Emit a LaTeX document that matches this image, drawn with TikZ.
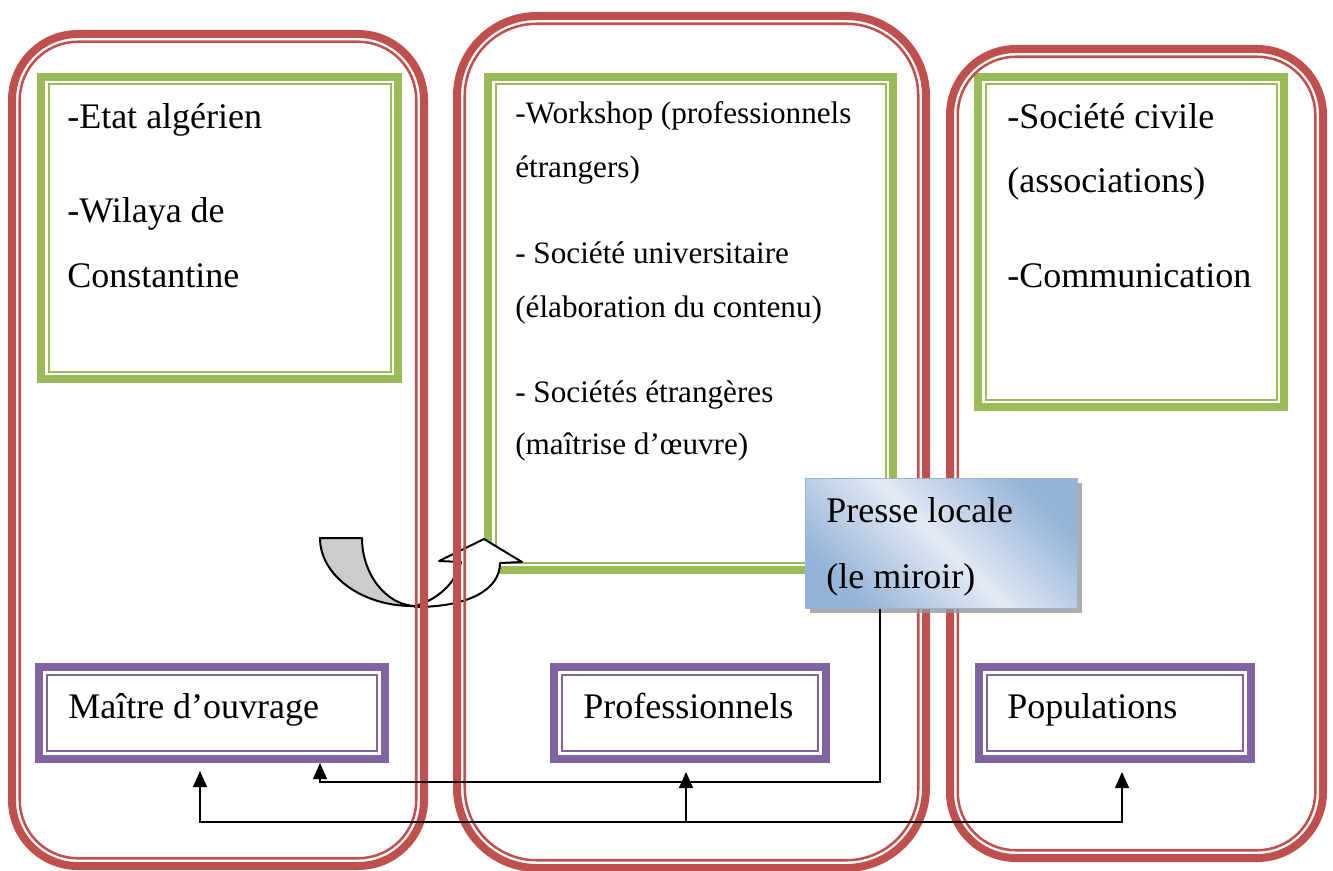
\documentclass[tikz,border=0pt]{standalone}
\usepackage{fontspec}
\setmainfont{Liberation Serif}
\usetikzlibrary{arrows.meta,shadows}
\definecolor{redc}{HTML}{C0504D}
\definecolor{greenc}{HTML}{9BBB59}
\definecolor{purplec}{HTML}{8064A2}
\definecolor{blueA}{HTML}{95B3D7}
\definecolor{blueB}{HTML}{E2EAF4}
\begin{document}
\begin{tikzpicture}[x=0.75pt,y=-0.75pt,
  bigtxt/.style={font=\fontsize{27pt}{30pt}\selectfont, inner sep=0pt, anchor=base west},
  midtxt/.style={font=\fontsize{23.4pt}{26pt}\selectfont, inner sep=0pt, anchor=base west},
  redframe/.style={draw=redc, line width=6pt, inner sep=0pt},
  redthin/.style={draw=redc, line width=1.9pt},
  greenframe/.style={draw=greenc, line width=6pt, inner sep=0pt},
  greenthin/.style={draw=greenc, line width=1.5pt},
  purpleframe/.style={draw=purplec, line width=6pt, inner sep=0pt, minimum height=69pt},
  purplethin/.style={draw=purplec, line width=1.5pt},
  conn/.style={draw=black, line width=1.1pt},
  arr/.style={conn, -{Triangle[length=12pt,width=10.5pt]}},
  arrowbody/.style={draw=black, line width=1.5pt, line join=round}
]
\useasboundingbox (0,0) rectangle (1333,870);

% green frames
\node[greenframe, minimum width=267.75pt, minimum height=226.5pt] (gL) at (219.5,228) {};
\draw[greenthin] ([shift={(11.5,11.5)}]gL.north west) rectangle ([shift={(-11.5,-11.5)}]gL.south east);
\node[greenframe, minimum width=303.75pt, minimum height=369.75pt] (gM) at (690.5,323.5) {};
\draw[greenthin] ([shift={(11.5,11.5)}]gM.north west) rectangle ([shift={(-11.5,-11.5)}]gM.south east);
\node[greenframe, minimum width=229.5pt, minimum height=247.5pt] (gR) at (1131,242) {};
\draw[greenthin] ([shift={(11.5,11.5)}]gR.north west) rectangle ([shift={(-11.5,-11.5)}]gR.south east);

% purple frames
\node[purpleframe, minimum width=259.5pt] (mo) at (212,713) {};
\draw[purplethin] ([shift={(12,12)}]mo.north west) rectangle ([shift={(-12,-12)}]mo.south east);
\node[purpleframe, minimum width=204pt] (pro) at (690,713) {};
\draw[purplethin] ([shift={(12,12)}]pro.north west) rectangle ([shift={(-12,-12)}]pro.south east);
\node[purpleframe, minimum width=204pt] (pop) at (1115,713) {};
\draw[purplethin] ([shift={(12,12)}]pop.north west) rectangle ([shift={(-12,-12)}]pop.south east);

% texts
\node[bigtxt] (l1) at (67,129) {-Etat algérien};
\node[bigtxt] (l2) at (67,222) {-Wilaya de};
\node[bigtxt] (l3) at (67,287) {Constantine};
\node[midtxt] (m1) at (515,124) {-Workshop (professionnels};
\node[midtxt] (m2) at (515,177) {étrangers)};
\node[midtxt] (m3) at (515,263) {- Société universitaire};
\node[midtxt] (m4) at (515,317) {(élaboration du contenu)};
\node[midtxt] (m5) at (515,402) {- Sociétés étrangères};
\node[midtxt] (m6) at (515,454) {(maîtrise d’œuvre)};
\node[bigtxt] (r1) at (1007,128) {-Société civile};
\node[bigtxt] (r2) at (1007,192) {(associations)};
\node[bigtxt] (r3) at (1007,287) {-Communication};
\node[bigtxt] (mot) at (68,718) {Maître d’ouvrage};
\node[bigtxt] (prot) at (583,718) {Professionnels};
\node[bigtxt] (popt) at (1007,718) {Populations};

% curved arrow
\draw[arrowbody, fill=gray!40] (320,538) -- (362,538) .. controls (362,574) and (386,605) .. (415,606) .. controls (363,607) and (320,576) .. (320,538) -- cycle;
\draw[arrowbody, fill=white] (415,606) .. controls (436,600) and (455,585) .. (461,562) -- (439,561) -- (484,539) -- (522,562) -- (500,563) .. controls (500,590) and (468,607) .. (415,607) -- cycle;

% red frames
\node[redframe, rounded corners=49.5pt, minimum width=309pt, minimum height=624pt] (rL) at (218,450) {};
\draw[redthin, rounded corners=43.5pt] ([shift={(11.75,11.75)}]rL.north west) rectangle ([shift={(-11.75,-11.75)}]rL.south east);
\node[redframe, rounded corners=60pt, minimum width=351.75pt, minimum height=639pt] (rM) at (691.5,442) {};
\draw[redthin, rounded corners=54pt] ([shift={(11.75,11.75)}]rM.north west) rectangle ([shift={(-11.75,-11.75)}]rM.south east);
\node[redframe, rounded corners=49.5pt, minimum width=279.75pt, minimum height=606.75pt] (rR) at (1136.5,453.5) {};
\draw[redthin, rounded corners=43.5pt] ([shift={(11.75,11.75)}]rR.north west) rectangle ([shift={(-11.75,-11.75)}]rR.south east);

% presse locale
\node[draw=blueA, line width=0.75pt, minimum width=204pt, minimum height=97.5pt, inner sep=0pt,
      top color=blueA, bottom color=blueA, middle color=blueB, shading angle=-45,
      drop shadow={shadow xshift=3.5pt, shadow yshift=-3.5pt, fill=black!40, opacity=0.8}] (presse) at (941,543) {};
\node[bigtxt] (pt1) at (826,522) {Presse locale};
\node[bigtxt] (pt2) at (826,588) {(le miroir)};

% connectors
\coordinate (pc) at (880,782);
\coordinate (mx) at (320,782);
\draw[arr] (presse.south -| pc) -- (pc) -- (mx) -- (mx |- mo.south);
\coordinate (b1) at (200,822);
\coordinate (b2) at (686,822);
\coordinate (b3) at (1122,822);
\draw[arr, shorten >=6pt] (b2) -- (b1) -- (b1 |- mo.south);
\draw[arr, shorten >=6.75pt] (b2) -- (b3) -- (b3 |- pop.south);
\draw[arr, shorten >=6.75pt] (b2) -- (b2 |- pro.south);
\end{tikzpicture}
\end{document}
